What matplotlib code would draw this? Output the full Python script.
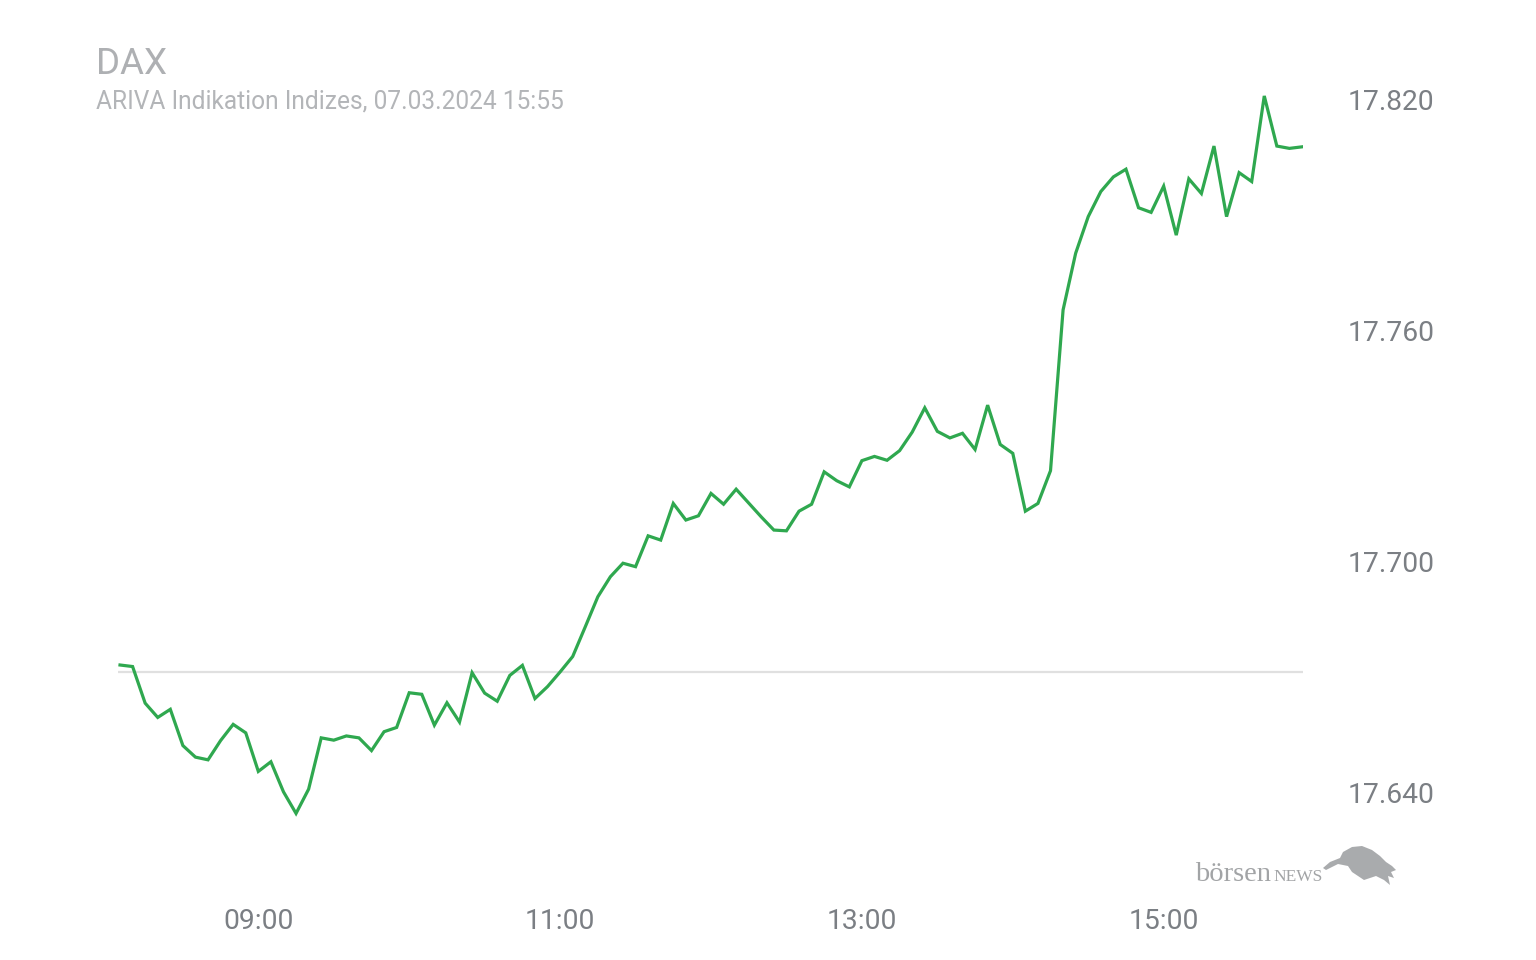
import numpy as np
import pandas as pd
import matplotlib
matplotlib.use("Agg")
import matplotlib.pyplot as plt
from matplotlib.ticker import FuncFormatter, FixedLocator
from matplotlib.patches import Polygon

plt.rcParams['font.family'] = ['Roboto', 'DejaVu Sans']

# ---- data ----
title = "DAX"
subtitle = "ARIVA Indikation Indizes, 07.03.2024 15:55"
start_time = "08:05"
end_time = "15:55"
values = [
    17673.2, 17672.8, 17663.3, 17659.6, 17661.7, 17652.3, 17649.3, 17648.6, 17653.6, 17657.8,
    17655.6, 17645.6, 17648.1, 17640.3, 17634.7, 17641.0, 17654.3, 17653.7, 17654.8, 17654.3,
    17651.0, 17655.9, 17657.0, 17666.0, 17665.6, 17657.6, 17663.4, 17658.4, 17671.2, 17665.9,
    17663.8, 17670.5, 17673.1, 17664.5, 17667.6, 17671.4, 17675.4, 17683.1, 17690.9, 17696.1,
    17699.6, 17698.7, 17706.7, 17705.6, 17715.1, 17710.8, 17711.9, 17717.7, 17714.9, 17718.8,
    17715.2, 17711.6, 17708.2, 17708.0, 17713.1, 17714.9, 17723.3, 17721.0, 17719.4, 17726.2,
    17727.3, 17726.3, 17728.8, 17733.6, 17739.9, 17733.8, 17732.1, 17733.3, 17729.1, 17740.6,
    17730.4, 17728.1, 17713.1, 17715.1, 17723.6, 17765.3, 17780.0, 17789.5, 17796.0, 17799.8,
    17801.8, 17791.8, 17790.6, 17797.4, 17784.7, 17799.3, 17795.5, 17807.8, 17789.5, 17800.9,
    17798.6, 17820.8, 17807.8, 17807.2, 17807.6,
]
previous_close = 17671.4
x_tick_labels = ["09:00", "11:00", "13:00", "15:00"]
y_ticks = [17640, 17700, 17760, 17820]

# ---- helpers ----
def to_min(s):
    h, m = s.split(":")
    return int(h) * 60 + int(m)

times = pd.date_range("2024-03-07 " + start_time, "2024-03-07 " + end_time, freq="5min")
x = times.hour * 60 + times.minute
x_ticks = [to_min(t) for t in x_tick_labels]

# ---- figure ----
W, H = 1536, 960
fig = plt.figure(figsize=(W / 100, H / 100), dpi=100)
fig.patch.set_facecolor("white")

ax_left, ax_right = 118, 1303
ax_top, ax_bottom = 41.2, 870.1
ax = fig.add_axes([ax_left / W, 1 - ax_bottom / H, (ax_right - ax_left) / W, (ax_bottom - ax_top) / H])
ax.set_facecolor("white")

ax.axhline(previous_close, color="#e0e0e0", lw=1.6, zorder=1)
ax.plot(x, values, color="#2fa84f", lw=2.3, solid_joinstyle="miter", zorder=3)

ax.set_xlim(x[0] - 0.8, x[-1] + 0.4)
ax.set_ylim(17620, 17835)

for s in ax.spines.values():
    s.set_visible(False)

tick_color = "#7b7f84"
ax.xaxis.set_major_locator(FixedLocator(x_ticks))
ax.set_xticklabels(x_tick_labels)
ax.yaxis.tick_right()
ax.yaxis.set_major_locator(FixedLocator(y_ticks))
ax.yaxis.set_major_formatter(FuncFormatter(lambda v, p: f"{v:,.0f}".replace(",", ".")))
ax.tick_params(axis="y", length=0, pad=32.3, labelsize=20.3, labelcolor=tick_color)
ax.tick_params(axis="x", length=0, pad=27, labelsize=20.3, labelcolor=tick_color)

# titles
fig.text(96 / W, 1 - 64 / H, title, fontsize=26.5,
         color="#aeb0b3", va="center", ha="left")
fig.text(96 / W, 1 - 101 / H, subtitle, fontsize=17.65,
         color="#b3b5b8", va="center", ha="left")

# logo
serif = ["Liberation Serif", "DejaVu Serif"]
fig.text(1195 / W, 1 - 881 / H, "börsen", family=serif,
         fontsize=20.5, color="#a2a4a6", ha="left", va="baseline")
fig.text(1273 / W, 1 - 881 / H, "NEWS", family=serif,
         fontsize=12.5, color="#a2a4a6", ha="left", va="baseline")
bull_px = [(1323, 868), (1330, 862), (1340, 858), (1343, 852), (1352, 847), (1362, 846),
           (1372, 850), (1380, 856), (1386, 862), (1392, 866), (1396, 870), (1391, 872),
           (1394, 878), (1388, 876), (1390, 885), (1384, 880), (1376, 876), (1370, 878),
           (1364, 880), (1358, 876), (1352, 872), (1348, 866), (1338, 864), (1326, 870)]
bull = Polygon([(px / W, 1 - py / H) for px, py in bull_px], closed=True,
               transform=fig.transFigure, facecolor="#a9abad", edgecolor="none")
fig.patches.append(bull)

fig.savefig("out.png", dpi=100)
